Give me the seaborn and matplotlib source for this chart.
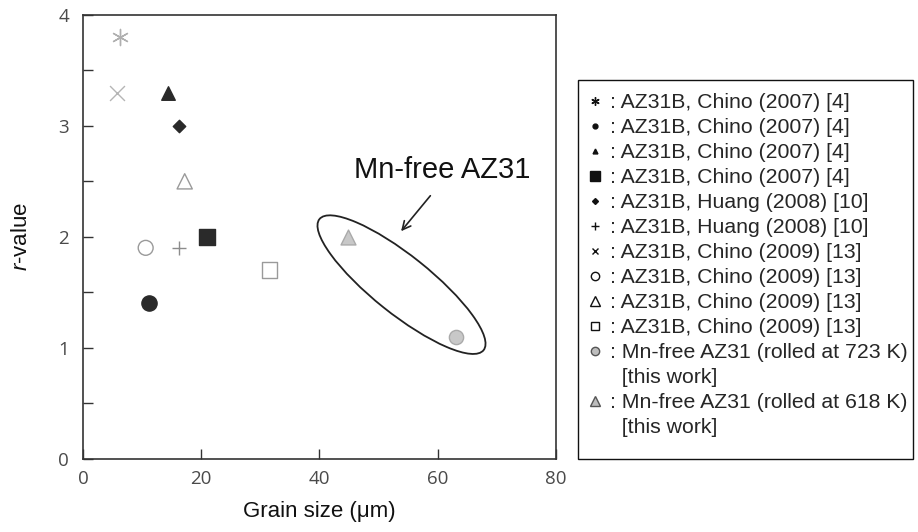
import matplotlib
matplotlib.use("Agg")
import matplotlib.pyplot as plt
import matplotlib.transforms as mtransforms
from matplotlib.lines import Line2D
from matplotlib.patches import Ellipse, Rectangle
from matplotlib.ticker import MultipleLocator
import seaborn as sns

# data
series_labels = [
    ": AZ31B, Chino (2007) [4]",
    ": AZ31B, Chino (2007) [4]",
    ": AZ31B, Chino (2007) [4]",
    ": AZ31B, Chino (2007) [4]",
    ": AZ31B, Huang (2008) [10]",
    ": AZ31B, Huang (2008) [10]",
    ": AZ31B, Chino (2009) [13]",
    ": AZ31B, Chino (2009) [13]",
    ": AZ31B, Chino (2009) [13]",
    ": AZ31B, Chino (2009) [13]",
    ": Mn-free AZ31 (rolled at 723 K)",
    ": Mn-free AZ31 (rolled at 618 K)",
]
grain_size = [6.3, 11.1, 14.3, 20.9, 16.3, 16.3, 5.7, 10.6, 17.2, 31.5, 63.1, 44.8]
r_value = [3.8, 1.4, 3.3, 2.0, 3.0, 1.9, 3.3, 1.9, 2.5, 1.7, 1.1, 2.0]
this_work = [False] * 10 + [True, True]

x_ticks = [0, 20, 40, 60, 80]
y_ticks = [0, 1, 2, 3, 4]

# marker styles: (marker, size, face, edge) for the plot and the legend
plot_styles = [
    ((6, 2, 0), 135, "#b0b0b0", "#b0b0b0"),
    ("o", 120, "#2a2a2a", "#2a2a2a"),
    ("^", 95, "#2a2a2a", "#2a2a2a"),
    ("s", 125, "#2a2a2a", "#2a2a2a"),
    ("D", 40, "#2a2a2a", "#2a2a2a"),
    ("+", 100, "#8c8c8c", "#8c8c8c"),
    ("x", 115, "#b5b5b5", "#b5b5b5"),
    ("o", 115, "none", "#9a9a9a"),
    ("^", 120, "none", "#9a9a9a"),
    ("s", 120, "none", "#9a9a9a"),
    ("o", 105, "#c8c8c8", "#aaaaaa"),
    ("^", 115, "#c8c8c8", "#aaaaaa"),
]
legend_styles = [
    ((6, 2, 0), 6.0, "#111", "#111"),
    ("o", 3.5, "#111", "#111"),
    ("^", 3.5, "#111", "#111"),
    ("s", 7.0, "#111", "#111"),
    ("D", 3.0, "#111", "#111"),
    ("+", 5.5, "#111", "#111"),
    ("x", 4.0, "#111", "#111"),
    ("o", 6.0, "none", "#111"),
    ("^", 6.5, "none", "#111"),
    ("s", 6.0, "none", "#111"),
    ("o", 6.0, "#bdbdbd", "#555"),
    ("^", 6.5, "#bdbdbd", "#555"),
]

sns.set_style("ticks")
plt.rcParams["font.family"] = ["Liberation Sans", "DejaVu Sans"]
plt.rcParams["mathtext.fontset"] = "custom"
plt.rcParams["mathtext.rm"] = "Liberation Sans"
plt.rcParams["mathtext.it"] = "Liberation Sans:italic"

fig = plt.figure(figsize=(9.18, 5.32), dpi=100)
ax = fig.add_axes([83 / 918, 73.5 / 532, 473 / 918, 443.5 / 532])

for i in range(len(grain_size)):
    m, s, fc, ec = plot_styles[i]
    sns.scatterplot(x=[grain_size[i]], y=[r_value[i]], marker=m, s=s,
                    facecolor=fc, edgecolor=ec, linewidth=1.0, ax=ax, zorder=3)

ax.set_xlim(0, 80)
ax.set_ylim(0, 4)
ax.set_xticks(x_ticks)
ax.set_yticks(y_ticks)
ax.yaxis.set_minor_locator(MultipleLocator(0.5))
ax.tick_params(axis="both", which="both", direction="in", length=7, width=1,
               color="#333333", top=False, right=False)
ax.tick_params(axis="y", which="minor", length=7)
ax.tick_params(axis="x", pad=8)
ax.tick_params(axis="y", pad=10)
for lab in ax.get_xticklabels() + ax.get_yticklabels():
    lab.set_fontfamily("Open Sans")
    lab.set_fontsize(13.5)
    lab.set_color("#4a4a4a")
for sp in ax.spines.values():
    sp.set_color("#333333")
    sp.set_linewidth(1.2)

ax.set_xlabel("Grain size (\u03bcm)", fontsize=16, color="#111")
ax.set_ylabel("$r$-value", fontsize=16, color="#111")
ax.xaxis.set_label_coords(0.5, -0.095)
ax.yaxis.set_label_coords(-0.108, 0.5)

# ellipse around the Mn-free points, sized in inches so rotation stays true
offset = mtransforms.ScaledTranslation(53.87, 1.568, ax.transData)
ell = Ellipse((0, 0), width=2.10, height=0.58, angle=-38.6,
              transform=fig.dpi_scale_trans + offset,
              facecolor="none", edgecolor="#222222", linewidth=1.3, zorder=2)
ax.add_patch(ell)

ax.annotate("", xy=(53.8, 2.05), xytext=(58.75, 2.37),
            arrowprops=dict(arrowstyle="->,head_length=0.6,head_width=0.3",
                            lw=1.2, color="#222222", shrinkA=0, shrinkB=0))
ax.text(60.8, 2.53, "Mn-free AZ31", ha="center", va="baseline",
        fontsize=21, color="#111")

# legend built from proxy handles; "[this work]" rows get an empty handle
handles, labels = [], []
for i in range(len(series_labels)):
    m, ms, fc, ec = legend_styles[i]
    handles.append(Line2D([], [], ls="none", marker=m, markersize=ms,
                          markerfacecolor=fc, markeredgecolor=ec,
                          markeredgewidth=1.0))
    labels.append(series_labels[i])
    if this_work[i]:
        handles.append(Line2D([], [], ls="none"))
        labels.append("  [this work]")

fig.legend(handles, labels, loc="upper left",
           bbox_to_anchor=(585.4 / 918, 1 - 93.4 / 532), borderaxespad=0,
           fontsize=15.3, frameon=False,
           labelspacing=0.282, handlelength=0.9, handletextpad=0.25,
           borderpad=0)

# legend frame drawn on its own so vertical and horizontal padding differ
fig.patches.append(Rectangle((577.7 / 918, 73 / 532), 335.3 / 918, 379 / 532,
                             transform=fig.transFigure, fill=False,
                             edgecolor="#111111", linewidth=1.0))

fig.savefig("out.png", dpi=100)
